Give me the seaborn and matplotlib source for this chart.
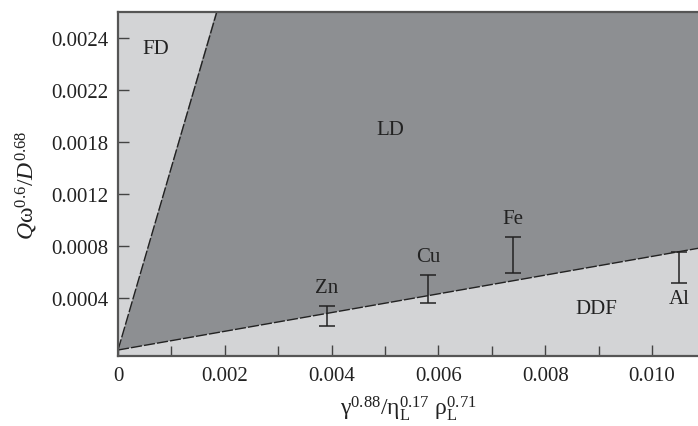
import matplotlib
matplotlib.use("Agg")
import matplotlib.pyplot as plt
import seaborn as sns
import pandas as pd

# ---- data ----
# regime boundaries (straight lines from origin)
fd_ld_x = [0.0, 0.00185]
fd_ld_y = [0.0, 0.0026]
ld_ddf_x = [0.0, 0.01090]
ld_ddf_y = [0.0, 0.000785]

metals = ["Zn", "Cu", "Fe", "Al"]
metal_x = [0.00391, 0.00581, 0.00740, 0.01051]
metal_low = [0.000187, 0.000364, 0.000590, 0.000513]
metal_high = [0.000341, 0.000577, 0.000867, 0.000752]

regions = ["FD", "LD", "DDF"]
region_x = [0.00070, 0.00510, 0.00896]
region_y = [0.00232, 0.00170, 0.00032]

ytick_pos = [0.0004, 0.0008, 0.0012, 0.0016, 0.0020, 0.0024]
ytick_labels = ["0.0004", "0.0008", "0.0012", "0.0018", "0.0022", "0.0024"]
xtick_pos = [0.0, 0.002, 0.004, 0.006, 0.008, 0.010]
xtick_labels = ["0", "0.002", "0.004", "0.006", "0.008", "0.010"]
xminor_pos = [0.001, 0.003, 0.005, 0.007, 0.009]

XMAX = 0.01086
YMIN, YMAX = -0.000046, 0.0026

LIGHT = "#d3d4d6"
DARK = "#8d8f92"
INK = "#222222"

sns.set_style("ticks")
plt.rcParams["font.family"] = ["Liberation Serif", "DejaVu Serif"]
plt.rcParams["mathtext.fontset"] = "custom"
plt.rcParams["mathtext.rm"] = "Liberation Serif"
plt.rcParams["mathtext.it"] = "Liberation Serif:italic"

fig = plt.figure(figsize=(6.98, 4.27), dpi=100)
ax = fig.add_axes([118 / 698, 1 - 357 / 427, 1 - 118 / 698, (357 - 13) / 427])
ax.set_facecolor(LIGHT)

# LD region polygon built from boundary data
poly_x = [fd_ld_x[0], fd_ld_x[1], XMAX * 1.01, ld_ddf_x[1] * 1.01, ld_ddf_x[0]]
poly_y = [fd_ld_y[0], fd_ld_y[1] * 1.01, YMAX * 1.01, ld_ddf_y[1] * 1.01, ld_ddf_y[0]]
ax.fill(poly_x, poly_y, color=DARK, lw=0, zorder=1)

df1 = pd.DataFrame({"x": fd_ld_x, "y": fd_ld_y})
df2 = pd.DataFrame({"x": ld_ddf_x, "y": ld_ddf_y})
for d in (df1, df2):
    l = sns.lineplot(data=d, x="x", y="y", ax=ax, color=INK, lw=1.0, zorder=2)
    l.lines[-1].set_dashes((8, 1.5))

FS = 15
# error bars
for name, x, lo, hi in zip(metals, metal_x, metal_low, metal_high):
    mid = (lo + hi) / 2
    ax.errorbar([x], [mid], yerr=[[mid - lo], [hi - mid]], fmt="none",
                ecolor=INK, elinewidth=1.1, capsize=6, capthick=1.1, zorder=3)
    if name == "Al":
        ax.text(x, lo - 0.00004, name, ha="center", va="top", fontsize=FS, color=INK)
    else:
        ax.text(x, hi + 0.00007, name, ha="center", va="bottom", fontsize=FS, color=INK)

for name, x, y in zip(regions, region_x, region_y):
    ax.text(x, y, name, ha="center", va="center", fontsize=FS, color=INK)

ax.set_xlim(0, XMAX)
ax.set_ylim(YMIN, YMAX)
ax.set_xticks(xtick_pos)
ax.set_xticklabels(xtick_labels)
ax.set_xticks(xminor_pos, minor=True)
ax.set_yticks(ytick_pos)
ax.set_yticklabels(ytick_labels)

ax.tick_params(axis="both", which="both", direction="in", color="#444444",
               labelsize=FS, labelcolor=INK)
ax.tick_params(axis="both", which="major", length=8, width=1, pad=7)
ax.tick_params(axis="x", which="minor", length=7, width=1)

for s in ["left", "bottom", "top"]:
    ax.spines[s].set_color("#555555")
    ax.spines[s].set_linewidth(1.6)
ax.spines["right"].set_visible(False)

ax.set_xlabel("γ$^{0.88}$/η$_{\\mathrm{L}}^{0.17}$ ρ$_{\\mathrm{L}}^{0.71}$",
              fontsize=17, color=INK, labelpad=6)
ax.set_ylabel("$Q$ω$^{0.6}$/$D^{0.68}$", fontsize=17, color=INK, labelpad=8)

fig.savefig("out.png", dpi=100)
